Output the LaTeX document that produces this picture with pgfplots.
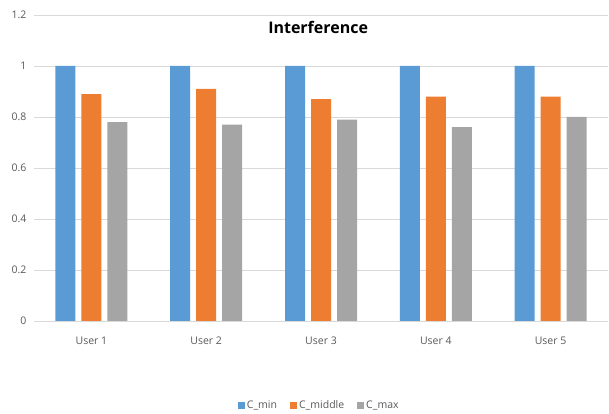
\documentclass[border=0pt]{standalone}
\usepackage{pgfplots}
\pgfplotsset{compat=1.18}
\usepackage{fontspec}
\setmainfont{Open Sans}
\definecolor{cmin}{HTML}{5B9BD5}
\definecolor{cmid}{HTML}{ED7D31}
\definecolor{cmax}{HTML}{A5A5A5}
\definecolor{gridc}{HTML}{D9D9D9}
\definecolor{labc}{HTML}{595959}
\begin{document}
\begin{tikzpicture}
\path[use as bounding box] (0,0) rectangle (609pt,414pt);
\begin{axis}[
  at={(34pt,93pt)}, anchor=south west,
  scale only axis, width=574pt, height=306pt,
  ybar=6pt, bar width=20pt,
  xmin=-0.5, xmax=4.5, ymin=0, ymax=1.2,
  xtick={0,1,2,3,4},
  xticklabels={User 1,User 2,User 3,User 4,User 5},
  ytick={0,0.2,0.4,0.6,0.8,1,1.2},
  major tick length=0pt,
  axis x line*=bottom, axis y line*=left,
  x axis line style={draw=gridc, line width=0.8pt, -},
  y axis line style={draw=none},
  ymajorgrids, grid style={draw=gridc, line width=0.8pt},
  /pgf/number format/assume math mode=true,
  tick label style={font=\fontsize{10.5}{12}\selectfont, text=labc},
  yticklabel style={xshift=-4pt},
  xticklabel style={yshift=-12pt},
  title={Interference},
  title style={at={(0.495,0.941)}, anchor=center, font=\bfseries\fontsize{16}{20}\selectfont},
  legend columns=3,
  legend style={draw=none, at={(0.497,-0.2745)}, anchor=center,
    font=\fontsize{10.5}{12}\selectfont, text=labc,
    /tikz/every even column/.append style={column sep=11pt},
    /tikz/every odd column/.append style={column sep=0pt}},
  legend image code/.code={\path[#1, draw=none] (0pt,-3.5pt) rectangle (7pt,3.5pt);},
]
\addplot[fill=cmin, draw=none] coordinates {(0,1) (1,1) (2,1) (3,1) (4,1)};
\addplot[fill=cmid, draw=none] coordinates {(0,0.89) (1,0.91) (2,0.87) (3,0.88) (4,0.88)};
\addplot[fill=cmax, draw=none] coordinates {(0,0.78) (1,0.77) (2,0.79) (3,0.76) (4,0.80)};
\legend{C\_min, C\_middle, C\_max}
\end{axis}
\end{tikzpicture}
\end{document}
